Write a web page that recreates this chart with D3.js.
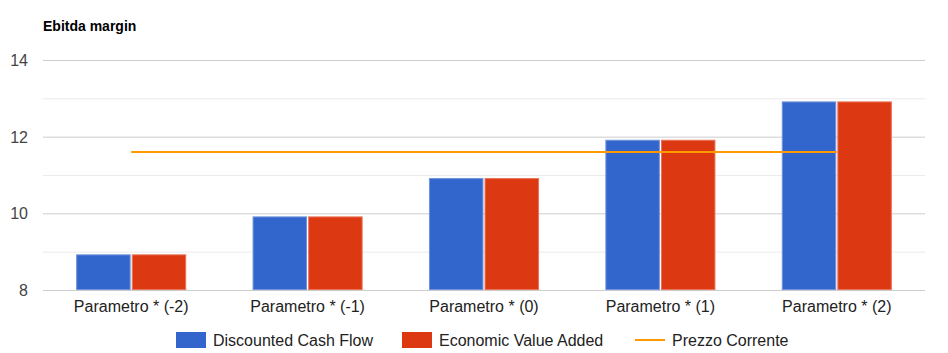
<!DOCTYPE html>
<html>
<head>
<meta charset="utf-8">
<script src="https://cdn.jsdelivr.net/npm/d3@7"></script>
<style>
body { margin: 0; background: #fff; }
text { font-family: "Liberation Sans", Arial, sans-serif; }
</style>
</head>
<body>
<svg id="canvas" width="948" height="353"></svg>
<script>
var categories = ["Parametro * (-2)", "Parametro * (-1)", "Parametro * (0)", "Parametro * (1)", "Parametro * (2)"];
var dcf = [8.93, 9.92, 10.92, 11.92, 12.92];
var eva = [8.93, 9.92, 10.92, 11.92, 12.92];
var prezzo = [11.6, 11.6, 11.6, 11.6, 11.6];
var yTicks = [8, 10, 12, 14];
var yMinor = [9, 11, 13];
var seriesNames = ["Discounted Cash Flow", "Economic Value Added", "Prezzo Corrente"];
var colors = ["#3366cc", "#dc3912", "#ff9900"];

var padLeft = 43, padRight = 925, padTop = 60, padBottom = 290;
var svg = d3.select("#canvas");

var xScale = d3.scaleBand().domain(categories).range([padLeft, padRight]).paddingInner(0.376).paddingOuter(0.188);
var yScale = d3.scaleLinear().domain([8, 14]).range([padBottom, padTop]);
var xSub = d3.scaleBand().domain([0, 1]).range([0, xScale.bandwidth()]).paddingInner(0.02);

svg.append("text").attr("x", padLeft).attr("y", 31)
	.attr("font-size", 14).attr("font-weight", "bold").attr("fill", "#000")
	.text("Ebitda margin");

// gridlines
svg.selectAll("line.minor").data(yMinor).enter()
	.append("line").attr("class", "minor")
	.attr("x1", padLeft).attr("x2", padRight)
	.attr("y1", d => yScale(d) + 0.5).attr("y2", d => yScale(d) + 0.5)
	.attr("stroke", "#ebebeb").attr("stroke-width", 1);
svg.selectAll("line.major").data(yTicks).enter()
	.append("line").attr("class", "major")
	.attr("x1", padLeft).attr("x2", padRight)
	.attr("y1", d => yScale(d) + 0.5).attr("y2", d => yScale(d) + 0.5)
	.attr("stroke", "#cccccc").attr("stroke-width", 1);

var yAxis = d3.axisLeft(yScale).tickValues(yTicks).tickFormat(d3.format("d")).tickSize(0).tickPadding(0);
svg.append("g").attr("transform", "translate(28,0)").call(yAxis)
	.call(g => g.select(".domain").remove())
	.call(g => g.selectAll("text").attr("font-size", 16).attr("fill", "#444").attr("dy", "0.35em")
		.attr("font-family", "Liberation Sans, Arial, sans-serif"));

var groups = svg.selectAll("g.cat").data(categories).enter()
	.append("g").attr("class", "cat")
	.attr("transform", d => "translate(" + xScale(d) + ",0)");

[dcf, eva].forEach(function (vals, s) {
	groups.append("rect")
		.attr("x", (d, i) => xSub(s) + 0.5)
		.attr("y", (d, i) => yScale(vals[i]) + 0.5)
		.attr("width", xSub.bandwidth() - 1)
		.attr("height", (d, i) => yScale(8) - yScale(vals[i]) - 1)
		.attr("fill", colors[s])
		.attr("stroke", s === 0 ? "#7094db" : "#ea7459")
		.attr("stroke-width", 1);
});

var line = d3.line()
	.x((d, i) => xScale(categories[i]) + xScale.bandwidth() / 2)
	.y(d => yScale(d));
svg.append("path").datum(prezzo)
	.attr("d", line).attr("fill", "none")
	.attr("stroke", colors[2]).attr("stroke-width", 2);

var xAxis = d3.axisBottom(xScale).tickSize(0).tickPadding(0);
svg.append("g").attr("transform", "translate(0," + (padBottom + 11) + ")").call(xAxis)
	.call(g => g.select(".domain").remove())
	.call(g => g.selectAll("text").attr("font-size", 16).attr("fill", "#222").attr("dy", "0.71em")
		.attr("font-family", "Liberation Sans, Arial, sans-serif"));

// legend
var legendX = [176, 402, 635];
var legend = svg.selectAll("g.legend").data(seriesNames).enter()
	.append("g").attr("class", "legend")
	.attr("transform", (d, i) => "translate(" + legendX[i] + ",340)");
legend.each(function (d, i) {
	var g = d3.select(this);
	if (i < 2) {
		g.append("rect").attr("x", 0).attr("y", -8).attr("width", 30).attr("height", 16)
			.attr("fill", colors[i]);
	} else {
		g.append("line").attr("x1", 0).attr("x2", 30).attr("y1", 0).attr("y2", 0)
			.attr("stroke", colors[i]).attr("stroke-width", 2);
	}
	g.append("text").attr("x", 37).attr("y", 0).attr("dy", "0.35em")
		.attr("font-size", 16).attr("fill", "#222").text(d);
});
</script>
</body>
</html>
